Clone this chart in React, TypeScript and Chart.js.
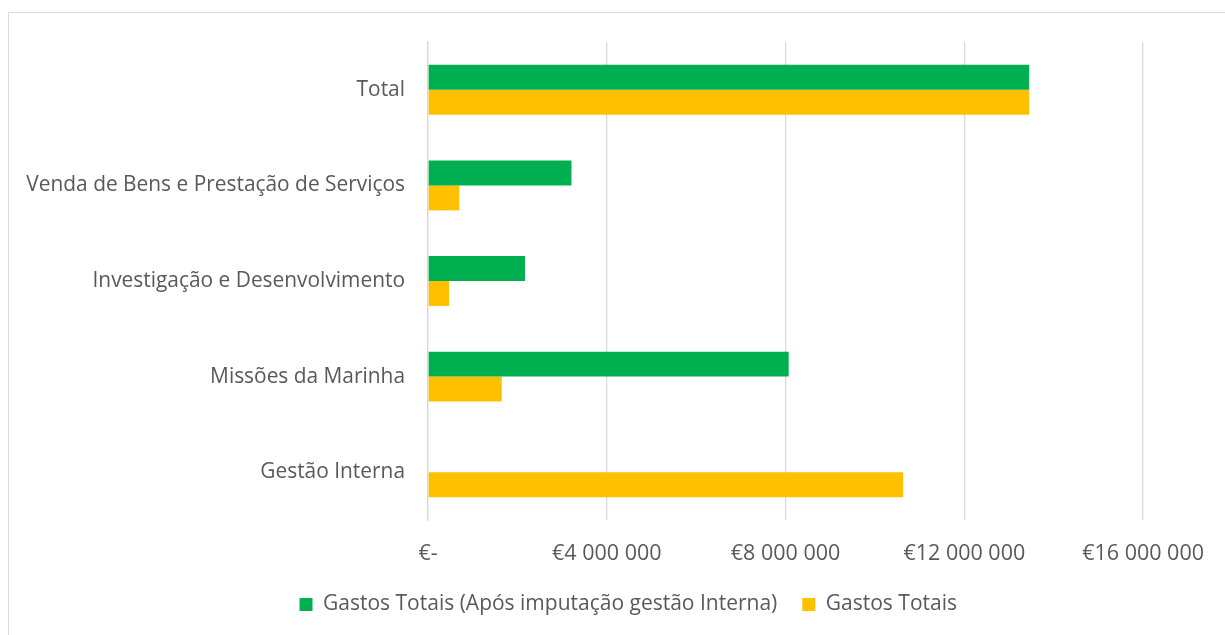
import React, { useEffect, useRef } from "react";
import { Chart, registerables } from "chart.js";

Chart.register(...registerables);

const categories = [
  "Total",
  "Venda de Bens e Prestação de Serviços",
  "Investigação e Desenvolvimento",
  "Missões da Marinha",
  "Gestão Interna",
];
const seriesAfterLabel = "Gastos Totais (Após imputação gestão Interna)";
const seriesTotalLabel = "Gastos Totais";
const gastosAposImputacao = [13450000, 3210000, 2170000, 8070000, 0];
const gastosTotais = [13450000, 700000, 470000, 1650000, 10630000];
const tickValues = [0, 4000000, 8000000, 12000000, 16000000];

function fmtEuro(v: number): string {
  if (v === 0) return "€-";
  const s = Math.round(v).toString().replace(/\B(?=(\d{3})+(?!\d))/g, " ");
  return "€" + s;
}

const shiftLegend = {
  id: "shiftLegend",
  afterLayout(chart: any) {
    const l = chart.legend;
    if (l) {
      l.left += 56.5;
      l.right += 56.5;
    }
  },
};

export default function App() {
  const ref = useRef<HTMLCanvasElement | null>(null);
  useEffect(() => {
    document.body.style.overflow = "hidden";
    const canvas = ref.current!;
    const chart = new Chart(canvas, {
      type: "bar",
      data: {
        labels: categories,
        datasets: [
          {
            label: seriesAfterLabel,
            data: gastosAposImputacao,
            backgroundColor: "#00B050",
            categoryPercentage: 0.522,
            barPercentage: 1,
          },
          {
            label: seriesTotalLabel,
            data: gastosTotais,
            backgroundColor: "#FFC000",
            categoryPercentage: 0.522,
            barPercentage: 1,
          },
        ],
      },
      plugins: [shiftLegend],
      options: {
        indexAxis: "y",
        responsive: false,
        animation: false,
        layout: { padding: { top: 42, right: 81.5, bottom: 10, left: 0 } },
        plugins: {
          tooltip: { enabled: false },
          legend: {
            position: "bottom",
            labels: {
              boxWidth: 13,
              boxHeight: 13,
              padding: 25,
              color: "#595959",
              font: { family: "'Open Sans'", size: 21 },
            },
          },
        },
        scales: {
          x: {
            min: 0,
            max: 16000000,
            afterBuildTicks: (scale: any) => {
              scale.ticks = tickValues.map((v) => ({ value: v }));
            },
            afterFit: (scale: any) => {
              scale.height = 49;
            },
            grid: { color: "#d9d9d9", lineWidth: 1.3, drawTicks: false },
            border: { display: false },
            ticks: {
              padding: 21,
              color: "#595959",
              font: { family: "'Open Sans'", size: 21.5 },
              callback: (v: any) => fmtEuro(Number(v)),
              maxRotation: 0,
            },
          },
          y: {
            afterFit: (scale: any) => {
              scale.width = 428;
            },
            grid: { display: false, drawTicks: false },
            border: { display: true, color: "#d9d9d9", width: 1.3 },
            ticks: {
              padding: 23,
              color: "#595959",
              font: { family: "'Open Sans'", size: 20.9 },
            },
          },
        },
      },
    });
    return () => chart.destroy();
  }, []);
  return (
    <>
      <div
        style={{
          position: "fixed",
          left: 8,
          top: 12,
          width: 1240,
          height: 660,
          border: "1px solid #d9d9d9",
          boxSizing: "border-box",
        }}
      />
      <canvas
        ref={ref}
        width={1225}
        height={635}
        style={{ position: "fixed", left: 0, top: 0, width: 1225, height: 635 }}
      />
    </>
  );
}
